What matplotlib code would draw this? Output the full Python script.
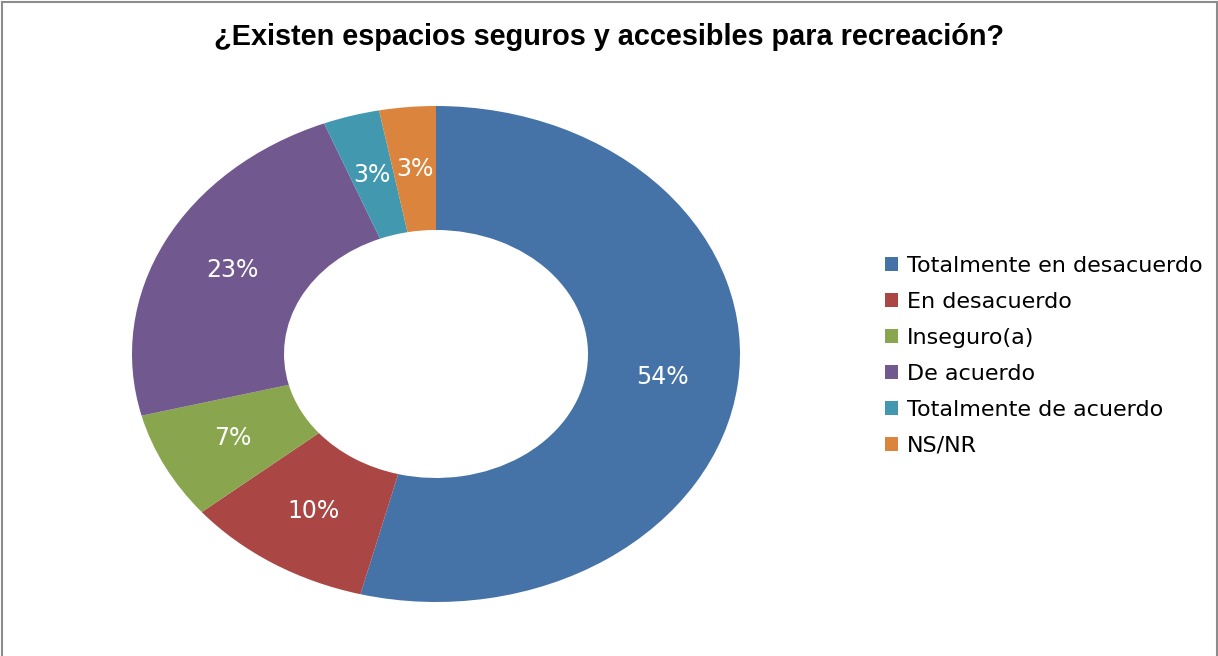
import matplotlib
matplotlib.use("Agg")
import matplotlib.pyplot as plt
from matplotlib.patches import Rectangle
from matplotlib.lines import Line2D

plt.rcParams["font.family"] = ["DejaVu Sans"]

TITLE = "¿Existen espacios seguros y accesibles para recreación?"
CATEGORIES = [
    "Totalmente en desacuerdo",
    "En desacuerdo",
    "Inseguro(a)",
    "De acuerdo",
    "Totalmente de acuerdo",
    "NS/NR",
]
PERCENTS = [54, 10, 7, 23, 3, 3]
COLORS = ["#4572A7", "#AA4643", "#89A54E", "#71588F", "#4198AF", "#DB843D"]

W, H = 1218, 656
fig = plt.figure(figsize=(W / 100, H / 100), dpi=100)

# donut: elliptical, as in the source spreadsheet chart
cx, cy, rx, ry = 436, 354, 304, 248
ax = fig.add_axes([(cx - rx) / W, 1 - (cy + ry) / H, 2 * rx / W, 2 * ry / H])
wedges, texts, autotexts = ax.pie(
    PERCENTS,
    colors=COLORS,
    startangle=90,
    counterclock=False,
    radius=1.0,
    wedgeprops=dict(width=0.5, linewidth=0),
    autopct=lambda p: f"{p:.0f}%",
    pctdistance=0.75,
    textprops=dict(color="white", fontsize=17),
)
ax.set_aspect("auto")
ax.set_xlim(-1, 1)
ax.set_ylim(-1, 1)
ax.axis("off")

fig.text(0.5, 1 - 37 / H, TITLE, ha="center", va="center",
         fontsize=20.8, fontweight="bold", family="Liberation Sans")

handles = [Rectangle((0, 0), 1, 1, facecolor=c, edgecolor="none") for c in COLORS]
fig.legend(
    handles, CATEGORIES,
    loc="upper left",
    bbox_to_anchor=(876 / W, 1 - 247 / H),
    frameon=False,
    fontsize=16,
    handlelength=0.6,
    handleheight=0.6,
    handletextpad=0.4,
    labelspacing=0.72,
    borderaxespad=0,
)

# thin grey frame (bottom edge is cropped in the original)
for xs, ys in [([1.5, 1.5], [0, H - 2]), ([1.5, W - 1.5], [H - 2, H - 2]),
               ([W - 1.5, W - 1.5], [H - 2, 0])]:
    fig.add_artist(Line2D([x / W for x in xs], [y / H for y in ys],
                          color="#8c8c8c", linewidth=1.5))

fig.savefig("out.png", dpi=100)
